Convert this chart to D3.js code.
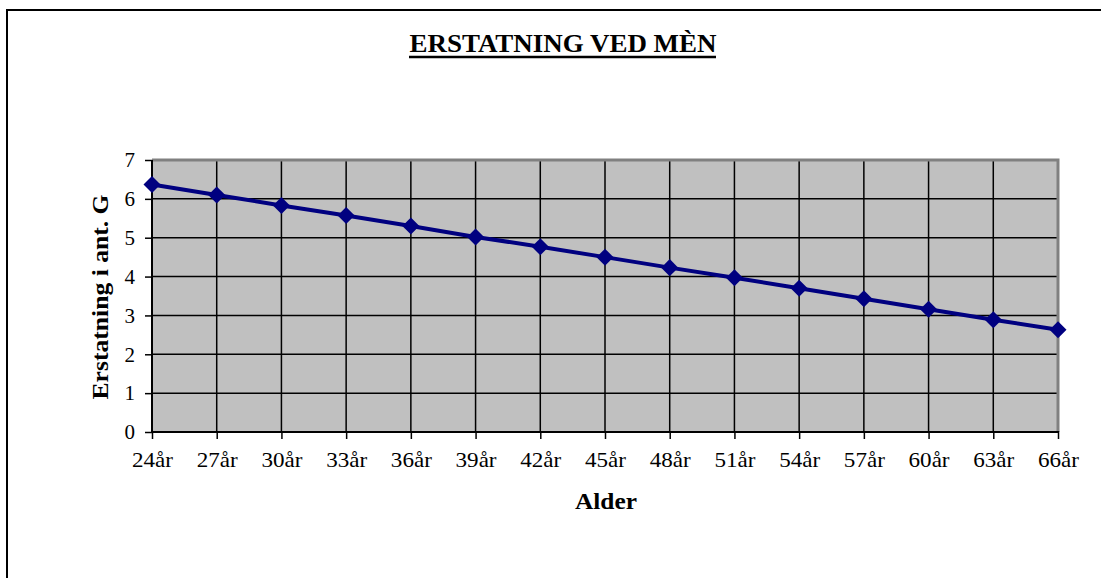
<!DOCTYPE html>
<html><head><meta charset="utf-8">
<script src="https://cdn.jsdelivr.net/npm/d3@7"></script>
<style>html,body{margin:0;padding:0;background:#fff;}svg{display:block;}</style>
</head><body>
<svg id="c" width="1101" height="578"></svg>
<script>
const categories = ["24år","27år","30år","33år","36år","39år","42år","45år","48år","51år","54år","57år","60år","63år","66år"];
const values = [6.37, 6.10, 5.83, 5.57, 5.30, 5.02, 4.77, 4.50, 4.23, 3.97, 3.70, 3.43, 3.16, 2.89, 2.63];
const yTicks = [0,1,2,3,4,5,6,7];
const title = "ERSTATNING VED MÈN";
const xTitle = "Alder";
const yTitle = "Erstatning i ant. G";

const svg = d3.select("#c");
const font = "'Liberation Serif','Times New Roman',serif";
const L = 152, R = 1058, T = 160, B = 432;

// outer border
svg.append("rect").attr("x",7).attr("y",10).attr("width",1200).attr("height",700)
  .attr("fill","#fff").attr("stroke","#000").attr("stroke-width",2);

const x = d3.scalePoint().domain(categories).range([L, R]);
const y = d3.scaleLinear().domain([0,7]).range([B, T]);

// plot area
svg.append("rect").attr("x",L).attr("y",T).attr("width",R-L).attr("height",B-T).attr("fill","#c0c0c0");

// grid
svg.append("g").selectAll("line").data(yTicks.slice(1,-1)).join("line")
  .attr("x1",L).attr("x2",R).attr("y1",d=>y(d)).attr("y2",d=>y(d))
  .attr("stroke","#000").attr("stroke-width",1.5);
svg.append("g").selectAll("line").data(categories.slice(1,-1)).join("line")
  .attr("x1",d=>x(d)).attr("x2",d=>x(d)).attr("y1",T).attr("y2",B)
  .attr("stroke","#000").attr("stroke-width",1.5);

// gray frame top/right
svg.append("path").attr("d",`M${L},${T}H${R}V${B}`).attr("fill","none")
  .attr("stroke","#808080").attr("stroke-width",3);

// axes
const yAxis = svg.append("g").attr("transform",`translate(${L},0)`)
  .call(d3.axisLeft(y).tickValues(yTicks).tickSize(7).tickPadding(10).tickFormat(d3.format("d")));
const xAxis = svg.append("g").attr("transform",`translate(0,${B})`)
  .call(d3.axisBottom(x).tickSize(7).tickPadding(13));
[yAxis,xAxis].forEach(a=>{
  a.select(".domain").attr("stroke","#000").attr("stroke-width",2);
  a.selectAll(".tick line").attr("stroke","#000").attr("stroke-width",1.5);
  a.selectAll("text").attr("fill","#000").style("font-family",font).style("font-size","21px");
});
xAxis.select(".domain").attr("d",`M${L},0H${R}`);
yAxis.select(".domain").attr("d",`M0,${B}V${T}`);
xAxis.selectAll(".tick text").attr("textLength",41).attr("lengthAdjust","spacingAndGlyphs");
xAxis.selectAll(".tick line").attr("y1",-1);

// line + markers
const line = d3.line().x((d,i)=>x(categories[i])).y(d=>y(d));
svg.append("path").datum(values).attr("d",line).attr("fill","none")
  .attr("stroke","#000080").attr("stroke-width",4);
svg.append("g").selectAll("path").data(values).join("path")
  .attr("d",d3.symbol(d3.symbolSquare, 145))
  .attr("transform",(d,i)=>`translate(${x(categories[i])},${y(d)}) rotate(45)`)
  .attr("fill","#000080");

// title
svg.append("text").attr("x",563).attr("y",52).attr("text-anchor","middle")
  .attr("font-family",font).attr("font-weight","bold").attr("font-size",26)
  .attr("textLength",307).attr("lengthAdjust","spacingAndGlyphs").text(title);
svg.append("line").attr("x1",409).attr("x2",716).attr("y1",57).attr("y2",57)
  .attr("stroke","#000").attr("stroke-width",2.5);

svg.append("text").attr("x",606).attr("y",509).attr("text-anchor","middle")
  .attr("font-family",font).attr("font-weight","bold").attr("font-size",24)
  .attr("textLength",62).attr("lengthAdjust","spacingAndGlyphs").text(xTitle);

svg.append("text").attr("transform","translate(108,297) rotate(-90)").attr("text-anchor","middle")
  .attr("font-family",font).attr("font-weight","bold").attr("font-size",24)
  .attr("textLength",205).attr("lengthAdjust","spacingAndGlyphs").text(yTitle);
</script>
</body></html>
